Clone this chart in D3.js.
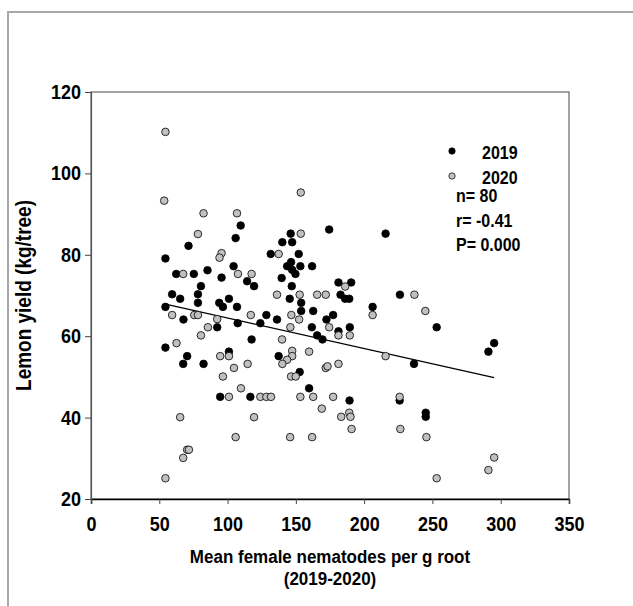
<!DOCTYPE html>
<html>
<head>
<meta charset="utf-8">
<script src="https://cdn.jsdelivr.net/npm/d3@7"></script>
<style>
  body { margin: 0; background: #fff; }
  text { font-family: "Liberation Sans", Arial, sans-serif; font-weight: bold; fill: #000; }
</style>
</head>
<body>
<div id="grafico"></div>
<script>
// scatter.js

const width = 633;
const height = 606;
const margin = { left: 91, top: 92, right: 64, bottom: 107 };
// texts in the original look a bit tall and narrow
const stretch = 1.12;

// 2019 points: nematodes per g root, yield kg/tree
const x2019 = [54.5, 109.6, 105.9, 71.4, 104.4, 62.4, 75.3, 85.3, 95.6, 114.3,
    119.4, 80.5, 78.3, 59.4, 65.3, 78.3, 93.9, 101, 96.6, 106.9,
    54.5, 67.7, 107.4, 124, 92.4, 117.6, 54.5, 101, 70.4, 67.5,
    82.4, 94.6, 116.7, 174.4, 215.7, 146.2, 140.1, 147.3, 131.6, 152.1,
    143.6, 146.5, 153.3, 161.9, 147.3, 149.7, 139.6, 147, 181.2, 190.5,
    182.7, 186.1, 189.1, 226.2, 145.5, 153.9, 153.9, 128.4, 136.2, 162.7,
    177.3, 172.4, 206.2, 161.7, 181.2, 189.5, 165.6, 169.5, 137.4, 236.5,
    152.8, 159.7, 189.3, 226, 245.1, 245.1, 253.1, 295.2, 291];
const y2019 = [79.1, 87.2, 84.1, 82.2, 77.2, 75.3, 75.3, 76.2, 74.4, 73.5,
    72.3, 72.3, 70.3, 70.3, 69.2, 68.2, 68.2, 69.2, 67.2, 67.2,
    67.2, 64.1, 63.2, 63.2, 62.2, 59.2, 57.2, 56.2, 55.1, 53.2,
    53.2, 45.1, 45.1, 86.2, 85.2, 85.2, 83.1, 83.1, 80.2, 80.2,
    77.2, 78.2, 77.2, 77.2, 76.3, 75.3, 74.3, 72.3, 73.2, 73.2,
    70.2, 69.2, 69.2, 70.2, 69.2, 68.2, 66.2, 65.2, 64.1, 66.2,
    65.2, 64.1, 67.2, 62.2, 61.2, 62.2, 60.2, 59.2, 55.1, 53.2,
    51.2, 47.2, 44.2, 44.2, 41.2, 40.2, 62.2, 58.3, 56.2];

// 2020 points
const x2020 = [54.5, 53.6, 82.4, 106.9, 78.3, 95.6, 94.1, 67.5, 107.6, 117.6,
    59.4, 75.6, 78.3, 117, 92.4, 85.6, 80.5, 62.6, 101, 94.6,
    114.7, 104.7, 96.6, 109.8, 101, 124, 65.3, 119.4, 105.9, 70.4,
    71.7, 67.5, 54.5, 153.6, 153.6, 137.4, 136.2, 152.8, 165.6, 171.9,
    186.1, 236.8, 146.7, 152.4, 206.2, 244.8, 146, 174.4, 181.2, 189.5,
    139.9, 159.7, 147.3, 147.3, 143.6, 140.1, 215.7, 181.2, 171.9, 173.2,
    146.5, 149.9, 128.4, 131.8, 153.3, 162.7, 177.3, 226, 169, 183.2,
    189.1, 190, 190.8, 145.8, 161.9, 226.5, 245.6, 295.2, 291, 253.1];
const y2020 = [110.2, 93.3, 90.2, 90.2, 85.1, 80.4, 79.3, 75.3, 75.3, 75.3,
    65.2, 65.2, 65.2, 65.2, 64.2, 62.2, 60.2, 58.3, 55.1, 55.1,
    53.2, 52.2, 50.1, 47.2, 45.1, 45.1, 40.1, 40.1, 35.2, 32.1,
    32.1, 30.1, 25.1, 95.3, 85.2, 80.2, 70.2, 70.2, 70.2, 70.2,
    72.2, 70.2, 65.2, 64.1, 65.2, 66.2, 62.2, 62.2, 60.2, 60.2,
    59.2, 56.2, 56.4, 55.1, 54.2, 53.2, 55.1, 53.2, 52.2, 52.6,
    50.1, 50.1, 45.1, 45.1, 45.1, 45.1, 45.1, 45.1, 42.2, 40.2,
    41.2, 40.2, 37.2, 35.2, 35.2, 37.2, 35.2, 30.2, 27.1, 25.1];

// Regression line (y = a + b*x) over the data range
const regA = 72.0;
const regB = -0.0752;
const regX = [54.5, 295.2];

const xTicks = [0, 50, 100, 150, 200, 250, 300, 350];
const yTicks = [20, 40, 60, 80, 100, 120];
const statLines = ["n= 80", "r= -0.41", "P= 0.000"];

const svg = d3.select("#grafico")
    .append("svg")
    .attr("width", width)
    .attr("height", height);

// Outer gray frame
svg.append("rect")
    .attr("x", 8)
    .attr("y", 12)
    .attr("width", 700)
    .attr("height", 700)
    .attr("fill", "none")
    .attr("stroke", "#a8a8a8")
    .attr("stroke-width", 2);

const x = d3.scaleLinear().domain([0, 350]).range([margin.left, width - margin.right]);
const y = d3.scaleLinear().domain([20, 120]).range([height - margin.bottom, margin.top]);

// Plot frame (top / right)
svg.append("rect")
    .attr("x", x(0))
    .attr("y", y(120))
    .attr("width", x(350) - x(0))
    .attr("height", y(20) - y(120))
    .attr("fill", "none")
    .attr("stroke", "#666")
    .attr("stroke-width", 1.2);

// Axes
const xAxis = svg.append("g")
    .attr("transform", `translate(0,${y(20)})`)
    .call(d3.axisBottom(x).tickValues(xTicks).tickSize(5).tickPadding(11));
xAxis.select(".domain").attr("stroke", "#000").attr("stroke-width", 1.5);
xAxis.selectAll("line").attr("stroke", "#444");
xAxis.selectAll("text")
    .attr("transform", `scale(1,${stretch})`)
    .style("font-size", "18px")
    .style("font-family", "Liberation Sans, Arial, sans-serif")
    .style("font-weight", "bold");

const yAxis = svg.append("g")
    .attr("transform", `translate(${x(0)},0)`)
    .call(d3.axisLeft(y).tickValues(yTicks).tickSize(6).tickPadding(4));
yAxis.select(".domain").attr("stroke", "#555").attr("stroke-width", 1.2);
yAxis.selectAll("line").attr("stroke", "#444");
yAxis.selectAll("text")
    .attr("transform", `scale(1,${stretch})`)
    .style("font-size", "18px")
    .style("font-family", "Liberation Sans, Arial, sans-serif")
    .style("font-weight", "bold");

// Axis titles
svg.append("text")
    .attr("transform", `translate(31,${(y(20) + y(120)) / 2}) rotate(-90) scale(1,${stretch})`)
    .attr("text-anchor", "middle")
    .style("font-size", "19px")
    .text("Lemon yield (kg/tree)");

const midX = (x(0) + x(350)) / 2;
svg.append("text")
    .attr("transform", `translate(${midX},563) scale(1,${stretch})`)
    .attr("text-anchor", "middle")
    .style("font-size", "17px")
    .text("Mean female nematodes per g root");

svg.append("text")
    .attr("transform", `translate(${midX},585) scale(1,${stretch})`)
    .attr("text-anchor", "middle")
    .style("font-size", "17px")
    .text("(2019-2020)");

// Regression line
svg.append("path")
    .datum(regX.map(v => [v, regA + regB * v]))
    .attr("fill", "none")
    .attr("stroke", "#000")
    .attr("stroke-width", 1.3)
    .attr("d", d3.line().x(d => x(d[0])).y(d => y(d[1])));

// Points
svg.append("g")
    .selectAll("circle")
    .data(d3.zip(x2019, y2019))
    .join("circle")
    .attr("cx", d => x(d[0]))
    .attr("cy", d => y(d[1]))
    .attr("r", 3.8)
    .attr("fill", "#000")
    .attr("stroke", "#000")
    .attr("stroke-width", 0.8);

svg.append("g")
    .selectAll("circle")
    .data(d3.zip(x2020, y2020))
    .join("circle")
    .attr("cx", d => x(d[0]))
    .attr("cy", d => y(d[1]))
    .attr("r", 3.8)
    .attr("fill", "#c0c0c0")
    .attr("stroke", "#000")
    .attr("stroke-width", 0.8);

// Legend
const legend = svg.append("g");
[["2019", "#000"], ["2020", "#c0c0c0"]].forEach((d, i) => {
    legend.append("circle")
        .attr("cx", 452)
        .attr("cy", 151 + i * 25)
        .attr("r", 3.2)
        .attr("fill", d[1])
        .attr("stroke", "#000")
        .attr("stroke-width", 0.7);
    legend.append("text")
        .attr("transform", `translate(482,${159 + i * 25}) scale(1,${stretch})`)
        .style("font-size", "16px")
        .text(d[0]);
});

statLines.forEach((t, i) => {
    legend.append("text")
        .attr("transform", `translate(456,${202 + i * 24.5}) scale(1,${stretch})`)
        .style("font-size", "16px")
        .text(t);
});
</script>
</body>
</html>
